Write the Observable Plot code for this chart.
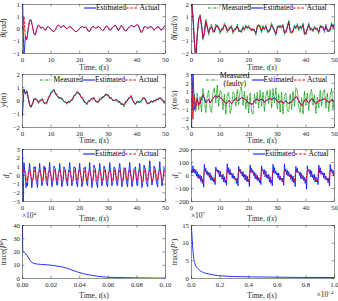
<!DOCTYPE html>
<html><head><meta charset="utf-8">
<script src="https://cdn.jsdelivr.net/npm/d3@7"></script>
<script src="https://cdn.jsdelivr.net/npm/@observablehq/plot@0.6"></script>
<style>
body{margin:0;background:#fff;}
#fig{position:relative;width:338px;height:301px;overflow:hidden;font-family:"Liberation Serif","DejaVu Serif",serif;color:#262626;}
.panel{position:absolute;}
.panel svg{overflow:visible;}
.lbl{position:absolute;font-size:7.5px;white-space:nowrap;line-height:1;transform:translate(-50%,-50%);}
.ylbl{position:absolute;font-size:7.5px;white-space:nowrap;line-height:1;transform:translate(-50%,-50%) rotate(-90deg);}
.leg{position:absolute;display:flex;align-items:center;font-size:7.5px;white-space:nowrap;line-height:1;color:#000;}
.leg svg{display:block;}
sub,sup{font-size:5px;line-height:0;}
#dbg{position:absolute;left:0;top:0;color:red;font:10px sans-serif;}
</style></head>
<body><div id="fig"></div>
<script>
// ---------- data ----------
const tHalf = d3.range(101).map(i => i * 0.5);     // 0..50 s, 0.5 s
const tQuarter = d3.range(201).map(i => i * 0.25); // 0..50 s, 0.25 s

const thetaActual = [
 0, 0.5, -0.35, -0.45, 0.0, 0.35, 0.38, 0.1, -0.2, -0.24,
 0.0, 0.15, 0.12, 0.02, 0.08, 0.02, -0.05, 0.05, 0.1, 0.05,
 -0.02, -0.08, -0.1, -0.05, 0.1, 0.17, 0.1, 0.05, 0.12, 0.14,
 0.05, 0.0, 0.05, 0.1, 0.08, 0.0, -0.05, -0.1, -0.1, -0.05,
 0.02, 0.08, 0.1, 0.05, 0.08, 0.03, -0.08, -0.1, 0.02, 0.1,
 0.08, 0.03, 0.06, 0.1, 0.08, -0.02, -0.06, -0.03, 0.08, 0.12,
 0.05, -0.05, -0.02, 0.08, 0.12, 0.15, 0.05, -0.06, 0.02, 0.14,
 0.1, -0.02, -0.08, -0.05, 0.04, 0.1, 0.15, 0.12, 0.08, 0.12,
 0.18, 0.15, -0.02, -0.15, -0.08, 0.08, 0.1, 0.05, 0.04, 0.08,
 0.1, 0.04, -0.05, 0.0, 0.08, 0.1, 0.02, -0.05, 0.02, 0.1,
 0.15];
const thetaEst = [
 1.3, -1.2, -0.3, -0.42, 0.02, 0.36, 0.37, 0.1, -0.19, -0.24,
 0.01, 0.15, 0.11, 0.03, 0.08, 0.01, -0.05, 0.06, 0.1, 0.04,
 -0.02, -0.08, -0.1, -0.04, 0.1, 0.16, 0.1, 0.05, 0.12, 0.13,
 0.05, 0.0, 0.06, 0.1, 0.07, 0.0, -0.05, -0.1, -0.1, -0.04,
 0.02, 0.08, 0.1, 0.05, 0.08, 0.02, -0.08, -0.1, 0.03, 0.1,
 0.08, 0.03, 0.06, 0.1, 0.07, -0.02, -0.06, -0.02, 0.08, 0.12,
 0.05, -0.05, -0.02, 0.08, 0.12, 0.15, 0.05, -0.06, 0.03, 0.14,
 0.1, -0.02, -0.08, -0.05, 0.04, 0.1, 0.15, 0.12, 0.08, 0.12,
 0.18, 0.14, -0.02, -0.15, -0.08, 0.08, 0.1, 0.05, 0.04, 0.08,
 0.1, 0.04, -0.05, 0.0, 0.08, 0.1, 0.02, -0.05, 0.02, 0.1,
 0.15];

const dthetaActual = [
 2.5, 1.0, -1.0, -2.5, -0.6, 0.8, 1.1, 0.3, -0.7, -0.4,
 0.65, 0.1, -0.3, 0.0, 0.2, -0.15, -0.25, 0.15, 0.3, 0.0,
 -0.2, -0.15, 0.05, 0.35, 0.25, -0.1, -0.15, 0.2, 0.1, -0.2,
 -0.15, 0.1, 0.2, -0.05, -0.25, -0.1, 0.05, 0.0, 0.15, 0.2,
 0.1, 0.1, -0.15, 0.05, -0.2, -0.3, 0.1, 0.35, 0.1, -0.1,
 0.1, 0.05, 0.15, -0.1, -0.3, 0.05, 0.3, 0.2, -0.2, -0.35,
 0.05, 0.3, 0.1, 0.25, 0.2, -0.25, -0.3, 0.2, 0.55, -0.1,
 -0.35, -0.1, 0.15, 0.2, 0.25, 0.05, 0.1, 0.15, 0.3, -0.3,
 -0.45, 0.1, 0.3, 0.05, -0.1, -0.05, 0.05, 0.1, -0.1, -0.2,
 0.15, 0.25, 0.05, -0.1, 0.2, -0.05, -0.25, 0.05, 0.35, 0.2,
 0.4];
const dthetaMeasured = [
 2.5, 1.2, -0.8, -2.3, -0.4, 0.6, 1.2, 0.5, -0.9, -0.2,
 0.8, 0.3, -0.5, 0.2, 0.4, -0.3, -0.1, 0.4, 0.1, 0.2,
 -0.4, 0.1, -0.1, 0.5, 0.1, -0.3, 0.1, 0.0, 0.3, -0.4,
 0.05, -0.1, 0.4, -0.25, -0.1, -0.3, 0.25, -0.15, 0.35, 0.0,
 0.3, -0.1, 0.05, -0.15, 0.0, -0.5, 0.3, 0.2, 0.3, -0.3,
 0.3, -0.1, 0.35, -0.3, -0.1, -0.15, 0.5, 0.0, -0.05, -0.55,
 0.25, 0.1, 0.3, 0.05, 0.4, -0.45, -0.1, 0.0, 0.7, -0.3,
 -0.15, -0.3, 0.35, 0.0, 0.45, -0.15, 0.3, -0.05, 0.5, -0.5,
 -0.25, -0.1, 0.5, -0.15, 0.1, -0.25, 0.25, -0.1, 0.1, -0.4,
 0.35, 0.05, 0.25, -0.3, 0.4, -0.25, -0.05, -0.15, 0.55, 0.0,
 0.5];
const dthetaEst = [
 2.5, 0.9, -1.1, -2.5, -0.5, 0.9, 1.0, 0.3, -0.75, -0.35,
 0.6, 0.15, -0.3, 0.05, 0.2, -0.1, -0.25, 0.2, 0.25, 0.05,
 -0.2, -0.1, 0.05, 0.3, 0.25, -0.1, -0.1, 0.15, 0.15, -0.2,
 -0.1, 0.05, 0.25, -0.05, -0.2, -0.15, 0.1, 0.0, 0.2, 0.15,
 0.15, 0.05, -0.1, 0.0, -0.15, -0.35, 0.15, 0.3, 0.15, -0.15,
 0.15, 0.0, 0.2, -0.1, -0.25, 0.0, 0.35, 0.15, -0.15, -0.4,
 0.1, 0.25, 0.15, 0.2, 0.25, -0.3, -0.25, 0.15, 0.6, -0.15,
 -0.3, -0.15, 0.2, 0.15, 0.3, 0.0, 0.15, 0.1, 0.35, -0.35,
 -0.4, 0.05, 0.35, 0.0, -0.05, -0.1, 0.1, 0.05, -0.05, -0.25,
 0.2, 0.2, 0.1, -0.15, 0.25, -0.1, -0.2, 0.0, 0.4, 0.15,
 0.45];

const yActual = [
 0.7, 0.8, 0.6, 0.7, 0.2, -0.3, -0.45, -0.2, 0.1, 0.2,
 0.05, -0.1, -0.05, 0.1, 0.1, -0.1, -0.2, -0.1, 0.15, 0.4,
 0.6, 0.75, 0.8, 0.6, 0.45, 0.3, 0.2, 0.25, 0.1, 0.0,
 -0.1, -0.15, -0.1, -0.05, 0.0, 0.15, 0.35, 0.5, 0.6, 0.65,
 0.5, 0.3, 0.2, 0.0, -0.15, -0.2, -0.05, 0.05, 0.1, 0.2,
 0.2, 0.05, -0.1, -0.05, 0.1, 0.2, 0.25, 0.35, 0.45, 0.5,
 0.4, 0.25, 0.2, 0.1, 0.0, 0.1, 0.05, -0.05, -0.1, -0.2,
 -0.25, -0.3, -0.1, 0.0, 0.15, 0.3, 0.35, 0.1, -0.15, -0.2,
 -0.1, -0.05, -0.1, 0.0, 0.15, 0.25, 0.1, -0.15, -0.2, -0.1,
 -0.05, -0.05, 0.0, 0.05, 0.1, 0.15, 0.2, 0.2, 0.0, -0.1,
 -0.05];
const yMeasured = [
 0.6, 0.9, 0.5, 0.8, 0.3, -0.4, -0.5, -0.1, 0.2, 0.1,
 0.15, -0.2, 0.05, 0.0, 0.2, -0.2, -0.1, -0.25, 0.25, 0.3,
 0.7, 0.65, 0.9, 0.5, 0.55, 0.2, 0.3, 0.15, 0.2, -0.1,
 0.0, -0.25, 0.0, -0.15, 0.1, 0.05, 0.45, 0.4, 0.75, 0.55,
 0.6, 0.2, 0.3, -0.1, -0.05, -0.3, 0.05, -0.05, 0.2, 0.1,
 0.3, -0.05, 0.0, -0.15, 0.2, 0.1, 0.35, 0.25, 0.55, 0.4,
 0.5, 0.15, 0.3, 0.0, 0.1, 0.0, 0.15, -0.15, 0.0, -0.3,
 -0.15, -0.45, 0.0, -0.1, 0.25, 0.2, 0.45, 0.0, -0.05, -0.3,
 0.0, -0.15, 0.0, -0.1, 0.25, 0.15, 0.2, -0.25, -0.1, -0.2,
 0.05, -0.15, 0.1, -0.05, 0.2, 0.05, 0.3, 0.1, 0.1, -0.2,
 0.05];
const yEst = [
 -1.1, 0.9, 0.55, 0.75, 0.25, -0.25, -0.45, -0.25, 0.1, 0.2,
 0.08, -0.08, -0.05, 0.12, 0.08, -0.12, -0.18, -0.08, 0.18, 0.42,
 0.62, 0.78, 0.82, 0.6, 0.42, 0.3, 0.22, 0.25, 0.08, 0.0,
 -0.12, -0.15, -0.08, -0.05, 0.02, 0.15, 0.37, 0.5, 0.62, 0.66,
 0.5, 0.28, 0.2, 0.02, -0.15, -0.22, -0.05, 0.06, 0.1, 0.22,
 0.2, 0.03, -0.1, -0.04, 0.12, 0.2, 0.26, 0.35, 0.46, 0.52,
 0.4, 0.24, 0.2, 0.12, 0.0, 0.1, 0.06, -0.05, -0.12, -0.2,
 -0.26, -0.3, -0.12, 0.02, 0.15, 0.3, 0.36, 0.1, -0.14, -0.22,
 -0.1, -0.04, -0.1, 0.02, 0.15, 0.26, 0.1, -0.14, -0.2, -0.1,
 -0.04, -0.06, 0.0, 0.06, 0.1, 0.16, 0.2, 0.2, 0.02, -0.1,
 -0.04];

const dyActual = [
 3.5, -2.0, 0.5, -0.8, 0.3, -0.5, -0.3, 0.4, 0.7, 0.3,
 -0.2, 0.0, 0.2, -0.2, 0.0, 0.3, 0.5, 0.6, 0.4, 0.6,
 0.4, 0.2, 0.1, -0.1, -0.3, -0.2, 0.0, -0.1, -0.3, -0.1,
 0.2, 0.3, 0.0, 0.1, 0.2, 0.4, 0.35, 0.2, 0.2, -0.1,
 -0.3, -0.2, -0.4, -0.3, 0.0, 0.2, 0.15, 0.05, 0.15, 0.2,
 0.1, -0.15, 0.0, 0.1, 0.2, 0.3, 0.2, 0.2, 0.4, 0.2,
 -0.05, -0.15, -0.1, 0.0, -0.3, -0.2, 0.0, -0.2, -0.3, -0.2,
 -0.1, 0.1, 0.3, 0.5, 0.4, 0.0, -0.3, -0.5, -0.3, 0.1,
 0.2, -0.1, -0.2, 0.0, 0.3, 0.2, -0.2, -0.3, -0.1, 0.0,
 0.05, 0.1, 0.2, 0.25, 0.1, 0.0, -0.2, -0.1, 0.2, 0.0,
 -0.2];
const dyMeasuredFaulty = [
 0.3, -1.0, 0.8, -1.2, 0.9, -1.0, 0.5, -1.2, 1.4, 0.2,
 -1.3, 0.6, 1.2, -0.8, -1.3, 1.0, 1.5, -0.2, 1.8, -0.6,
 1.2, 0.9, -1.0, 0.8, -1.5, 0.7, 1.0, -1.4, -0.8, 1.0,
 0.8, -0.6, 1.3, -0.4, 1.2, 1.5, -0.5, 1.1, -0.9, 0.6,
 -1.4, 0.9, -1.2, -1.5, 0.8, -0.3, 1.0, -0.8, 1.2, -0.6,
 1.0, -1.2, 0.5, 1.2, -0.3, 1.3, -0.8, 1.4, -0.2, 1.5,
 -0.9, 0.8, -1.3, 1.0, -1.5, 0.6, 0.9, -1.1, -1.2, 0.8,
 -1.0, 1.1, -0.6, 1.5, 1.2, -0.7, -1.3, 0.4, -1.5, 1.1,
 -0.5, 0.9, -1.1, 0.8, 1.3, -0.5, 0.7, -1.4, 0.4, -0.8,
 1.2, -0.6, 1.0, 1.3, -0.8, 0.9, -1.2, 0.7, 1.4, -0.9,
 0.6];
const dyEst = [
 -3.5, 3.5, -1.0, -0.5, 0.2, -0.4, -0.2, 0.3, 0.65, 0.35,
 -0.15, 0.0, 0.15, -0.2, 0.05, 0.3, 0.45, 0.6, 0.45, 0.55,
 0.4, 0.25, 0.1, -0.05, -0.25, -0.2, 0.0, -0.05, -0.3, -0.1,
 0.15, 0.3, 0.05, 0.1, 0.25, 0.4, 0.3, 0.25, 0.15, -0.05,
 -0.25, -0.2, -0.35, -0.3, 0.0, 0.15, 0.15, 0.1, 0.1, 0.2,
 0.1, -0.1, 0.0, 0.1, 0.25, 0.25, 0.2, 0.25, 0.35, 0.2,
 0.0, -0.15, -0.05, 0.0, -0.25, -0.2, 0.05, -0.2, -0.25, -0.2,
 -0.05, 0.1, 0.25, 0.45, 0.4, 0.05, -0.3, -0.45, -0.3, 0.05,
 0.2, -0.05, -0.2, 0.05, 0.25, 0.2, -0.15, -0.3, -0.1, 0.0,
 0.1, 0.1, 0.15, 0.25, 0.15, 0.0, -0.15, -0.1, 0.15, 0.05,
 -0.15];

// d1 sampled every 0.25 s (rows of one ~1.75 s cycle)
const d1Est = [
 3.0, -3.0, 1.5, 0.6, -0.1, -1.4, -0.8,
 -1.2, 0.3, 0.6, 1.4, 0.2, -0.2, -1.4,
 -0.6, -0.4, 1.0, 0.8, 1.0, -0.6, -0.9,
 -1.4, 0.3, 0.4, 1.4, 0.3, 0.0, -1.2,
 -0.8, -0.5, 1.1, 0.7, 0.9, -0.7, -1.0,
 -1.2, 0.4, 0.5, 1.5, 0.3, -0.1, -1.3,
 -0.9, -0.4, 1.1, 0.9, 0.8, -0.4, -1.1,
 -1.1, 0.3, 0.4, 1.4, 0.5, -0.1, -1.3,
 -0.9, -0.4, 1.0, 0.8, 0.7, -0.5, -0.9,
 -1.2, 0.3, 0.7, 1.5, 0.3, -0.2, -1.2,
 -0.8, -0.5, 1.0, 0.9, 0.9, -0.5, -1.0,
 -1.3, 0.2, 0.6, 1.4, 0.3, -0.1, -1.3,
 -1.0, -0.4, 0.9, 0.8, 1.0, -0.4, -0.9,
 -1.2, 0.4, 0.5, 1.5, 0.2, -0.1, -1.4,
 -0.8, -0.4, 1.2, 0.9, 0.8, -0.7, -1.0,
 -1.4, 0.2, 0.5, 1.4, 0.5, -0.1, -1.2,
 -0.7, -0.4, 1.1, 0.8, 0.7, -0.6, -1.1,
 -1.3, 0.3, 0.4, 1.5, 0.6, 0.0, -1.2,
 -0.8, -0.5, 1.0, 0.9, 0.6, -0.5, -1.0,
 -1.2, 0.2, 0.8, 1.4, 0.4, -0.3, -1.3,
 -0.9, -0.4, 0.9, 0.8, 0.9, -0.4, -1.0,
 -1.3, 0.3, 0.7, 1.5, 0.3, -0.2, -1.3,
 -0.9, -0.3, 0.8, 0.9, 1.0, -0.3, -1.1,
 -1.2, 0.4, 0.6, 1.4, 0.2, -0.1, -1.4,
 -0.9, -0.5, 1.2, 0.8, 0.8, -0.7, -1.0,
 -1.3, 0.2, 0.5, 1.7, 0.5, -0.1, -1.1,
 -0.6, -0.3, 1.1, 0.9, 0.7, -0.6, -1.0,
 -1.3, 0.3, 0.6, 1.6, 0.4, -0.1, -1.2,
 -0.7, -0.2, 0.9, 0.8, 0.7];
const d1Actual = [
 0.3, 0.8, 0.5, 0.6, 0.3, -0.2, -0.6,
 -0.55, -0.1, 0.4, 0.65, 0.4, -0.15, -0.6,
 -0.6, -0.15, 0.38, 0.62, 0.42, -0.12, -0.58,
 -0.62, -0.12, 0.4, 0.66, 0.38, -0.16, -0.6,
 -0.58, -0.14, 0.42, 0.64, 0.4, -0.14, -0.62,
 -0.6, -0.1, 0.4, 0.65, 0.42, -0.15, -0.58,
 -0.62, -0.16, 0.38, 0.63, 0.4, -0.12, -0.6,
 -0.58, -0.12, 0.42, 0.66, 0.38, -0.16, -0.62,
 -0.6, -0.14, 0.4, 0.64, 0.4, -0.14, -0.58,
 -0.62, -0.1, 0.38, 0.65, 0.42, -0.15, -0.6,
 -0.58, -0.16, 0.42, 0.63, 0.4, -0.12, -0.62,
 -0.6, -0.12, 0.4, 0.66, 0.38, -0.16, -0.58,
 -0.62, -0.14, 0.38, 0.64, 0.42, -0.14, -0.6,
 -0.58, -0.1, 0.42, 0.65, 0.4, -0.15, -0.62,
 -0.6, -0.16, 0.4, 0.63, 0.38, -0.12, -0.58,
 -0.62, -0.12, 0.38, 0.66, 0.42, -0.16, -0.6,
 -0.58, -0.14, 0.42, 0.64, 0.4, -0.14, -0.62,
 -0.6, -0.1, 0.4, 0.65, 0.38, -0.15, -0.58,
 -0.62, -0.16, 0.38, 0.63, 0.42, -0.12, -0.6,
 -0.58, -0.12, 0.42, 0.66, 0.4, -0.16, -0.62,
 -0.6, -0.14, 0.4, 0.64, 0.38, -0.14, -0.58,
 -0.62, -0.1, 0.38, 0.65, 0.42, -0.15, -0.6,
 -0.58, -0.16, 0.42, 0.63, 0.4, -0.12, -0.62,
 -0.6, -0.12, 0.4, 0.66, 0.38, -0.16, -0.58,
 -0.62, -0.14, 0.38, 0.64, 0.42, -0.14, -0.6,
 -0.58, -0.1, 0.42, 0.65, 0.4, -0.15, -0.62,
 -0.6, -0.16, 0.4, 0.63, 0.38, -0.12, -0.58,
 -0.62, -0.12, 0.38, 0.66, 0.42, -0.16, -0.6,
 -0.58, -0.14, 0.4, 0.64, 0.4];

// d2 estimated sampled every 0.25 s (rows of one ~4 s sawtooth cycle)
const d2Est = [
 40, 20,
 75, 25, 50, 15, 45, -5, 30, -20, 10, -25, 5, -45, -5, -60, -30, -90,
 85, 30, 55, 10, 35, 0, 25, -15, 20, -35, 0, -40, -15, -50, -25, -70,
 65, 35, 45, 20, 40, -10, 35, -10, 5, -30, 10, -50, -10, -55, -35, -75,
 90, 20, 60, 5, 45, 5, 20, -20, 15, -25, -5, -35, -20, -60, -20, -80,
 70, 30, 50, 15, 30, -5, 30, -15, 10, -35, 5, -45, -5, -50, -30, -85,
 80, 25, 55, 20, 40, 0, 25, -25, 15, -30, 0, -40, -15, -55, -25, -70,
 75, 35, 45, 10, 45, -10, 35, -15, 5, -25, 10, -50, -10, -60, -35, -80,
 85, 20, 60, 15, 35, 5, 20, -20, 20, -35, -5, -35, -20, -50, -20, -75,
 90, 30, 50, 5, 40, -5, 30, -10, 10, -30, 5, -45, -5, -55, -30, -85,
 70, 25, 55, 20, 30, 0, 25, -25, 15, -25, 0, -40, -15, -60, -25, -105,
 75, 35, 45, 15, 45, -10, 35, -15, 5, -35, 10, -50, -10, -50, -35, -70,
 80, 20, 60, 10, 35, 5, 20, -20, 20, -30, -5, -35, -20, -55, -20, -80,
 85, 30, 50, 15, 40, -5, 30];
// d2 actual sampled every 0.5 s
const d2Actual = [
 20,
 45, 35, 20, 10, -5, -20, -35, -45,
 42, 33, 22, 8, -5, -18, -33, -44,
 44, 36, 20, 10, -6, -20, -36, -46,
 45, 34, 21, 9, -4, -19, -34, -45,
 43, 35, 20, 10, -5, -21, -35, -44,
 44, 33, 22, 8, -6, -20, -33, -46,
 45, 36, 20, 10, -5, -18, -36, -45,
 42, 34, 21, 9, -4, -20, -34, -44,
 44, 35, 20, 10, -5, -19, -35, -46,
 45, 33, 22, 8, -6, -21, -33, -45,
 43, 36, 20, 10, -5, -20, -36, -44,
 44, 34, 21, 9, -4, -18, -34, -46,
 45, 35, 20, 10];

// covariance traces
const tTraceTheta = [0, 0.0002, 0.0014, 0.0033, 0.0056, 0.008, 0.0103, 0.015, 0.0196, 0.024, 0.029, 0.0336, 0.038, 0.043, 0.0477, 0.052, 0.059, 0.066, 0.078, 0.09, 0.1];
const traceTheta = [40, 20.3, 19.7, 17.2, 13.2, 11.4, 10.9, 10.5, 10.1, 9.4, 8.4, 6.8, 5.1, 3.5, 2.5, 1.8, 1.0, 0.75, 0.5, 0.35, 0.25]; // ×10^4
const tTraceY = [0, 0.007, 0.014, 0.026, 0.049, 0.072, 0.12, 0.19, 0.31, 0.54, 0.77, 1.0]; // ×10^-4 s
const traceY = [14.6, 9.5, 6.3, 4.0, 2.6, 1.9, 1.3, 0.8, 0.55, 0.4, 0.3, 0.28]; // ×10^7

const timeTicks = [0, 10, 20, 30, 40, 50];
const ticksTheta = [-1, -0.5, 0, 0.5, 1];
const ticks2 = [-2, -1, 0, 1, 2];
const ticks3 = [-3, -2, -1, 0, 1, 2, 3];
const ticksD2 = [-200, -100, 0, 100, 200];
const ticksTrTheta = [0, 10, 20, 30, 40];
const ticksTrY = [0, 5, 10, 15];
const ticksTimeTrTheta = [0, 0.02, 0.04, 0.06, 0.08, 0.1];
const ticksTimeTrY = [0, 0.2, 0.4, 0.6, 0.8, 1];

// ---------- drawing ----------
const BLUE = "#0a1fff", RED = "#ff0000", GREEN = "#0a9a0a", INK = "#262626";
const fig = document.getElementById("fig");
const problems = [];

function est(t, v) { return {t, v, color: BLUE, w: 0.9}; }
function act(t, v) { return {t, v, color: RED, w: 0.9, dash: "2.6,1.6"}; }
function meas(t, v) { return {t, v, color: GREEN, w: 0.8, dash: "2.6,1.2,0.7,1.2"}; }

function makePanel(c) {
  const mR = 4, mB = 22;
  const width = c.fx1 - c.left + mR, height = c.fy1 - c.top + mB;
  const pw = c.fx1 - c.fx0, ph = c.fy1 - c.fy0;
  const marks = [];
  for (const s of c.series) {
    if (s.t.length !== s.v.length) problems.push(c.name + ": " + s.t.length + " vs " + s.v.length);
    marks.push(Plot.line(s.v, {x: (d, i) => s.t[i], y: d => d, stroke: s.color, strokeWidth: s.w,
      strokeDasharray: s.dash, clip: true, curve: c.curve || "linear"}));
  }
  const tk = {stroke: INK, strokeWidth: 0.5};
  marks.push(
    Plot.frame({stroke: INK, strokeWidth: 0.5}),
    Plot.tickX(c.xTicks, {x: d => d, insetTop: ph - 2.5, ...tk}),
    Plot.tickX(c.xTicks, {x: d => d, insetBottom: ph - 2.5, ...tk}),
    Plot.tickY(c.yTicks, {y: d => d, insetRight: pw - 2.5, ...tk}),
    Plot.tickY(c.yTicks, {y: d => d, insetLeft: pw - 2.5, ...tk}),
    Plot.axisX(c.xTicks, {tickSize: 0, tickPadding: 3.5, label: null, fill: INK}),
    Plot.axisY(c.yTicks, {tickSize: 0, tickPadding: 2.5, label: null, fill: INK})
  );
  const svg = Plot.plot({
    width, height,
    marginLeft: c.fx0 - c.left, marginRight: mR, marginTop: c.fy0 - c.top, marginBottom: mB,
    x: {domain: c.xDom}, y: {domain: c.yDom},
    style: {fontFamily: "Liberation Serif, DejaVu Serif, serif", fontSize: "6.8px", background: "transparent", color: INK},
    marks
  });
  const div = document.createElement("div");
  div.className = "panel";
  div.style.left = c.left + "px";
  div.style.top = c.top + "px";
  div.appendChild(svg);
  fig.appendChild(div);
}

function text(html, x, y, cls) {
  const d = document.createElement("div");
  d.className = cls;
  d.style.left = x + "px";
  d.style.top = y + "px";
  d.innerHTML = html;
  fig.appendChild(d);
}

function sample(color, dash, w) {
  return `<svg width="12" height="6"><line x1="0" x2="12" y1="3" y2="3" stroke="${color}" stroke-width="${w}" ${dash ? `stroke-dasharray="${dash}"` : ""}/></svg>`;
}
const legEst = sample(BLUE, null, 1.1) + "<span>Estimated</span>";
const legAct = sample(RED, "2.6,1.6", 1.1) + "<span style='margin-left:1.5px'>Actual</span>";
const legMeas = sample(GREEN, "2.6,1.2,0.7,1.2", 1.1) + "<span style='margin-left:1.5px'>Measured</span>";

function legend(html, x, yc) {
  const d = document.createElement("div");
  d.className = "leg";
  d.style.left = x + "px";
  d.style.top = (yc - 5) + "px";
  d.style.height = "10px";
  d.innerHTML = html;
  fig.appendChild(d);
}

const L = {left: 0, fx0: 22, fx1: 165};
const R = {left: 168, fx0: 191, fx1: 334};
const row1 = {top: 0, fy0: 4, fy1: 53};
const row2 = {top: 70, fy0: 74, fy1: 127};
const row3 = {top: 140, fy0: 149, fy1: 201};
const row4 = {top: 215, fy0: 225, fy1: 278};

makePanel({name: "theta", ...L, ...row1, xDom: [0, 50], yDom: [-1, 1], xTicks: timeTicks, yTicks: ticksTheta,
  series: [est(tHalf, thetaEst), act(tHalf, thetaActual)]});
makePanel({name: "dtheta", ...R, ...row1, xDom: [0, 50], yDom: [-2, 2], xTicks: timeTicks, yTicks: ticks2,
  series: [meas(tHalf, dthetaMeasured), est(tHalf, dthetaEst), act(tHalf, dthetaActual)]});
makePanel({name: "y", ...L, ...row2, xDom: [0, 50], yDom: [-2, 2], xTicks: timeTicks, yTicks: ticks2,
  series: [meas(tHalf, yMeasured), est(tHalf, yEst), act(tHalf, yActual)]});
makePanel({name: "dy", ...R, ...row2, xDom: [0, 50], yDom: [-3, 3], xTicks: timeTicks, yTicks: ticks3,
  series: [meas(tHalf, dyMeasuredFaulty), est(tHalf, dyEst), act(tHalf, dyActual)]});
makePanel({name: "d1", ...L, ...row3, xDom: [0, 50], yDom: [-3, 3], xTicks: timeTicks, yTicks: ticks3,
  series: [est(tQuarter, d1Est), act(tQuarter, d1Actual)]});
makePanel({name: "d2", ...R, ...row3, xDom: [0, 50], yDom: [-200, 200], xTicks: timeTicks, yTicks: ticksD2,
  series: [est(tQuarter, d2Est), act(tHalf, d2Actual)]});
makePanel({name: "trTheta", ...L, ...row4, xDom: [0, 0.1], yDom: [0, 40], xTicks: ticksTimeTrTheta, yTicks: ticksTrTheta,
  curve: "monotone-x", series: [{t: tTraceTheta, v: traceTheta, color: BLUE, w: 0.9}]});
makePanel({name: "trY", ...R, ...row4, xDom: [0, 1], yDom: [0, 15], xTicks: ticksTimeTrY, yTicks: ticksTrY,
  curve: "monotone-x", series: [{t: tTraceY, v: traceY, color: BLUE, w: 0.9}]});

// axis titles
const timeLbl = "Time, <i>t</i>(<i>s</i>)";
for (const [x, y] of [[94, 68], [262, 68], [94, 141], [262, 141], [94, 219], [262, 219], [94, 296], [262, 296]]) text(timeLbl, x, y, "lbl");
text("<i>θ</i>(<i>rad</i>)", 4, 28, "ylbl");
text("<i>θ̇</i>(<i>rad/s</i>)", 175, 28, "ylbl");
text("<i>y</i>(<i>m</i>)", 4, 100, "ylbl");
text("<i>ẏ</i>(<i>m/s</i>)", 175, 100, "ylbl");
text("<i>d</i><sub>1</sub>", 7, 175, "ylbl");
text("<i>d</i><sub>2</sub>", 176, 175, "ylbl");
text("trace(<i>P</i><sup><i>θ</i></sup>)", 4, 252, "ylbl");
text("trace(<i>P</i><sup><i>y</i></sup>)", 175, 252, "ylbl");
text("×10<sup>4</sup>", 29, 216, "lbl");
text("×10<sup>7</sup>", 198, 216, "lbl");
text("×10<sup>−4</sup>", 325, 295, "lbl");

// legends
legend(legEst + legAct, 84, 8);
legend(legMeas + legEst + legAct, 208, 8);
legend(legMeas + legEst + legAct, 40, 80);
legend(sample(GREEN, "2.6,1.2,0.7,1.2", 1.1) +
  "<span style='margin-left:2px;text-align:center;line-height:1.05'>Measured<br>(faulty)</span>" +
  "<span style='width:2px'></span>" + legEst + legAct, 206, 80);
legend(legEst + legAct, 83, 154);
legend(legEst + legAct, 253, 154);

if (problems.length) {
  const d = document.createElement("div"); d.id = "dbg"; d.textContent = problems.join("; "); fig.appendChild(d);
}
</script>
</body></html>
